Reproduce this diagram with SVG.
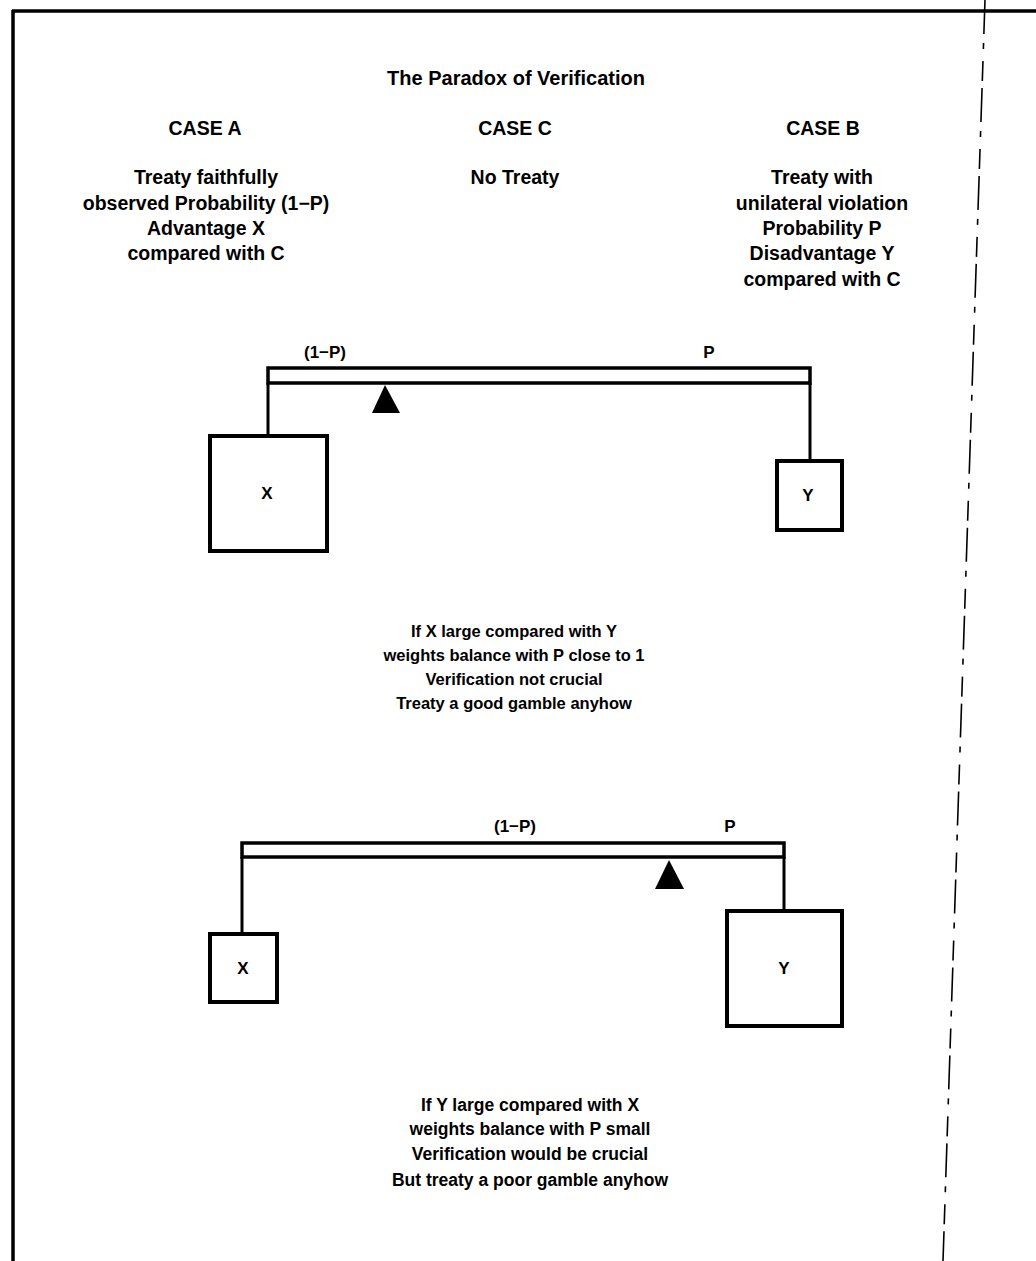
<svg xmlns="http://www.w3.org/2000/svg" width="1036" height="1261" viewBox="0 0 1036 1261">
<style>
text{font-family:"Liberation Sans",Arial,sans-serif;font-size:19.5px;font-weight:bold;fill:#000;text-anchor:middle}
.title{font-size:20px}
.lbl{font-size:17px}
.cap1{font-size:16.5px}
.cap2{font-size:17.5px}
.frame{stroke:#000;fill:none;stroke-width:3.5}
.edge{stroke:#000;fill:none;stroke-width:1.6;stroke-dasharray:34 9 6 12 20 7}
.beam{stroke:#000;fill:none;stroke-width:3.5}
.box{stroke:#000;fill:#fff;stroke-width:4}
.hang{stroke:#000;fill:none;stroke-width:3}
.fulcrum{fill:#000}
</style>
<rect width="1036" height="1261" fill="#fff"/>
<g id="frame">
<line class="frame" x1="12" y1="11" x2="1036" y2="11"/>
<line class="frame" x1="13" y1="10" x2="13" y2="1261"/>
<line class="edge" x1="985" y1="0" x2="943" y2="1261"/>
</g>
<g id="header">
<text class="title" x="516" y="85">The Paradox of Verification</text>
<text x="205" y="135">CASE A</text>
<text x="515" y="135">CASE C</text>
<text x="823" y="135">CASE B</text>
</g>
<g id="caseA">
<text x="206" y="184">Treaty faithfully</text>
<text x="206" y="210">observed Probability (1−P)</text>
<text x="206" y="235">Advantage X</text>
<text x="206" y="260">compared with C</text>
</g>
<g id="caseC">
<text x="515" y="184">No Treaty</text>
</g>
<g id="caseB">
<text x="822" y="184">Treaty with</text>
<text x="822" y="210">unilateral violation</text>
<text x="822" y="235">Probability P</text>
<text x="822" y="260">Disadvantage Y</text>
<text x="822" y="286">compared with C</text>
</g>
<g id="connectors">
<line class="hang" x1="268" y1="383" x2="268" y2="437"/>
<line class="hang" x1="810" y1="383" x2="810" y2="462"/>
<line class="hang" x1="242" y1="857" x2="242" y2="935"/>
<line class="hang" x1="784" y1="857" x2="784" y2="912"/>
</g>
<g id="beam1">
<rect class="beam" x="268" y="368" width="542" height="15"/>
<text class="lbl" x="325" y="358">(1−P)</text>
<text class="lbl" x="709" y="358">P</text>
</g>
<g id="fulcrum1">
<polygon class="fulcrum" points="385,385 372,413 400,413"/>
</g>
<g id="boxX1">
<rect class="box" x="210" y="436" width="117" height="115"/>
<text class="lbl" x="267" y="499">X</text>
</g>
<g id="boxY1">
<rect class="box" x="777" y="461" width="65" height="69"/>
<text class="lbl" x="808" y="501">Y</text>
</g>
<g id="caption1">
<text class="cap1" x="514" y="637">If X large compared with Y</text>
<text class="cap1" x="514" y="661">weights balance with P close to 1</text>
<text class="cap1" x="514" y="685">Verification not crucial</text>
<text class="cap1" x="514" y="709">Treaty a good gamble anyhow</text>
</g>
<g id="beam2">
<rect class="beam" x="242" y="843" width="542" height="14"/>
<text class="lbl" x="515" y="832">(1−P)</text>
<text class="lbl" x="730" y="832">P</text>
</g>
<g id="fulcrum2">
<polygon class="fulcrum" points="669,860 655,889 684,889"/>
</g>
<g id="boxX2">
<rect class="box" x="210" y="934" width="67" height="68"/>
<text class="lbl" x="243" y="974">X</text>
</g>
<g id="boxY2">
<rect class="box" x="727" y="911" width="115" height="115"/>
<text class="lbl" x="784" y="974">Y</text>
</g>
<g id="caption2">
<text class="cap2" x="530" y="1111">If Y large compared with X</text>
<text class="cap2" x="530" y="1135">weights balance with P small</text>
<text class="cap2" x="530" y="1160">Verification would be crucial</text>
<text class="cap2" x="530" y="1186">But treaty a poor gamble anyhow</text>
</g>
</svg>
